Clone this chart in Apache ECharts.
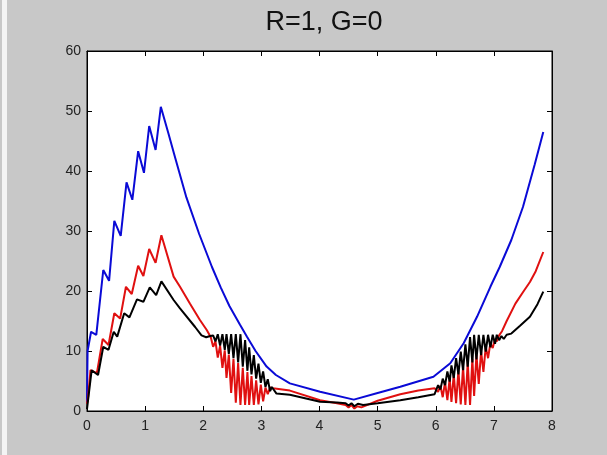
<!DOCTYPE html>
<html>
<head>
<meta charset="utf-8">
<script src="https://cdn.jsdelivr.net/npm/echarts@6/dist/echarts.min.js"></script>
<style>
html,body{margin:0;padding:0;background:#c8c8c8;}
#c{width:607px;height:455px;}
</style>
</head>
<body>
<div id="c"></div>
<script>
// Title and tick labels
var titleText = 'R=1, G=0';
var xTicks = [0, 1, 2, 3, 4, 5, 6, 7, 8];
var yTicks = [0, 10, 20, 30, 40, 50, 60];

// Blue series [x, y]
var bluePts = [
  [0,1.5],[0.01,10],[0.07,13.2],[0.16,12.7],[0.28,23.5],[0.38,21.7],[0.47,31.7],[0.58,29.2],
  [0.68,38.1],[0.78,35.2],[0.88,43.3],[0.98,39.7],[1.07,47.5],[1.18,43.5],[1.27,50.7],
  [1.4,46.3],[1.5,42.8],[1.71,35.6],[1.93,29.5],[2.15,24.0],[2.3,20.6],[2.45,17.5],
  [2.63,14.4],[2.75,12.4],[2.9,10.0],[3.09,7.4],[3.25,6.0],[3.49,4.6],[4.01,3.2],[4.59,1.9],
  [5.0,3.0],[5.39,4.05],[5.96,5.7],[6.25,7.95],[6.48,11.3],[6.71,15.7],[6.94,20.7],
  [7.1,24.0],[7.3,28.5],[7.5,34.0],[7.7,41.0],[7.85,46.5]
];

// Red series [x, y]
var redPts = [
  [0,1.2],[0.02,2.4],[0.06,6.8],[0.17,6.3],[0.27,12.0],[0.37,11.0],[0.47,16.3],[0.57,15.4],
  [0.67,20.7],[0.77,19.5],[0.88,24.2],[0.97,22.5],[1.07,27.0],[1.18,24.7],[1.28,29.3],
  [1.49,22.4],[1.6,20.7],[1.77,17.9],[1.94,15.2],[2.06,13.5],
  [2.13,12.3],[2.17,10.7],[2.21,11.6],[2.25,8.9],[2.29,10.9],[2.33,7.2],[2.37,10.1],[2.40,5.5],
  [2.44,9.4],[2.48,3.0],[2.52,8.7],[2.56,1.4],[2.60,8.0],[2.64,1.0],[2.68,7.2],[2.72,1.0],
  [2.76,6.5],[2.79,1.0],[2.83,5.8],[2.87,1.0],[2.91,5.1],[2.95,1.1],[2.99,4.4],[3.03,1.6],
  [3.07,3.9],[3.11,2.8],[3.15,3.9],
  [3.2,3.8],[3.49,3.4],[4.01,1.8],[4.3,1.3],[4.45,1.0],[4.5,0.6],[4.55,1.0],[4.6,0.4],
  [4.65,0.8],[4.72,0.6],[5.0,1.7],[5.39,2.8],[5.7,3.4],[5.98,3.8],
  [6.04,3.2],[6.08,4.2],[6.12,2.3],[6.16,4.8],[6.20,1.8],[6.24,5.5],[6.27,1.5],[6.31,6.1],
  [6.35,1.3],[6.39,6.8],[6.43,1.1],[6.47,7.4],[6.51,1.0],[6.55,8.1],[6.59,1.0],[6.63,8.7],
  [6.66,2.5],[6.70,9.4],[6.74,4.5],[6.78,10.0],[6.82,6.5],[6.86,10.7],[6.90,8.8],[6.94,11.3],
  [6.98,10.5],[7.02,12.0],[7.05,11.6],[7.09,12.6],
  [7.14,13.3],[7.22,15.0],[7.37,17.9],[7.5,19.8],[7.62,21.5],[7.72,23.3],[7.85,26.5]
];

// Black series [x, y]
var blackPts = [
  [0,0.3],[0.08,6.8],[0.19,6.0],[0.28,10.7],[0.37,10.2],[0.46,13.2],[0.52,12.4],[0.64,16.3],
  [0.73,15.6],[0.86,18.6],[0.97,18.2],[1.08,20.6],[1.19,19.3],[1.28,21.6],[1.49,18.5],
  [1.6,17.1],[1.86,14.0],[1.97,12.6],[2.05,12.3],[2.12,12.5],
  [2.17,12.6],[2.21,11.6],[2.25,12.8],[2.29,10.9],[2.33,12.8],[2.37,10.2],[2.40,12.8],[2.44,9.5],
  [2.48,12.8],[2.52,8.8],[2.56,12.8],[2.60,8.1],[2.64,12.8],[2.68,7.4],[2.72,11.8],[2.76,6.7],
  [2.79,10.6],[2.83,6.1],[2.87,9.3],[2.91,5.4],[2.95,7.9],[2.99,4.7],[3.03,6.6],[3.07,4.0],
  [3.11,5.3],[3.15,3.3],[3.18,4.0],
  [3.26,2.9],[3.49,2.7],[4.01,1.55],[4.3,1.4],[4.45,1.3],[4.5,0.9],[4.55,1.3],[4.6,0.8],
  [4.66,1.2],[4.75,1.0],[5.0,1.3],[5.39,1.8],[5.7,2.3],[5.98,2.8],
  [6.04,4.3],[6.08,3.6],[6.12,5.4],[6.16,4.3],[6.20,6.6],[6.24,4.9],[6.27,7.6],[6.31,5.5],
  [6.35,8.8],[6.39,6.1],[6.43,9.9],[6.47,6.8],[6.51,11.1],[6.55,7.4],[6.59,12.3],[6.63,8.1],
  [6.66,12.7],[6.70,8.6],[6.74,12.7],[6.78,9.3],[6.82,12.7],[6.86,9.9],[6.90,12.7],[6.94,10.6],
  [6.98,12.7],[7.02,11.2],[7.05,12.7],[7.09,11.8],
  [7.13,12.5],[7.17,12.0],[7.22,12.7],[7.3,12.9],[7.45,14.2],[7.62,15.7],[7.75,17.8],[7.85,19.9]
];

var chart = echarts.init(document.getElementById('c'), null, {renderer: 'canvas'});
var FONT = '"Liberation Sans", Arial, Helvetica, sans-serif';

function baseX(pos, showLabels) {
  return {
    type: 'value', position: pos,
    min: xTicks[0], max: xTicks[xTicks.length - 1], interval: 1,
    axisLine: {show: true, onZero: false, lineStyle: {color: '#000', width: 1}},
    axisTick: {show: true, inside: true, length: 5, lineStyle: {color: '#000'}},
    axisLabel: {show: showLabels, color: '#222', fontSize: 14, fontFamily: FONT, margin: 8},
    splitLine: {show: false}
  };
}
function baseY(pos, showLabels) {
  return {
    type: 'value', position: pos,
    min: yTicks[0], max: yTicks[yTicks.length - 1], interval: 10,
    axisLine: {show: true, onZero: false, lineStyle: {color: '#000', width: 1}},
    axisTick: {show: true, inside: true, length: 5, lineStyle: {color: '#000'}},
    axisLabel: {show: showLabels, color: '#222', fontSize: 14, fontFamily: FONT, margin: 6},
    splitLine: {show: false}
  };
}

function lineSeries(pts, color, z) {
  return {
    type: 'line', data: pts, xAxisIndex: 0, yAxisIndex: 0,
    symbol: 'none', smooth: false, z: z,
    lineStyle: {color: color, width: 2},
    animation: false
  };
}

chart.setOption({
  backgroundColor: '#c8c8c8',
  animation: false,
  title: {
    text: titleText, left: 319, top: 4, textAlign: 'center',
    textStyle: {fontSize: 27, fontWeight: 'normal', color: '#111', fontFamily: FONT}
  },
  graphic: [
    {type: 'rect', left: 2, top: 0, shape: {width: 5, height: 455}, style: {fill: '#f4f4f4'}, z: -10}
  ],
  grid: {left: 87, right: 55, top: 51, bottom: 44, show: true, backgroundColor: '#fff', borderColor: '#000', borderWidth: 1},
  xAxis: [baseX('bottom', true), baseX('top', false)],
  yAxis: [baseY('left', true), baseY('right', false)],
  series: [
    lineSeries(bluePts, '#0a0ad6', 2),
    lineSeries(redPts, '#e01010', 3),
    lineSeries(blackPts, '#000000', 4)
  ]
});
</script>
</body>
</html>
